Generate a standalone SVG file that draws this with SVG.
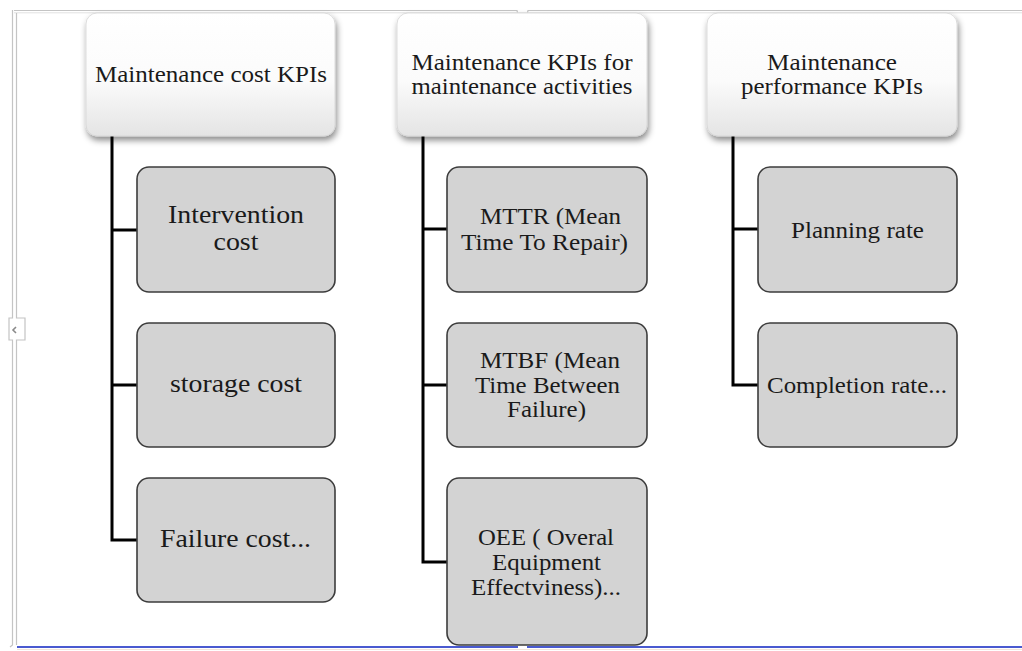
<svg xmlns="http://www.w3.org/2000/svg" width="1022" height="651" viewBox="0 0 1022 651">
<defs>
<linearGradient id="hg" x1="0" y1="0" x2="0" y2="1">
<stop offset="0" stop-color="#ffffff"/>
<stop offset="0.55" stop-color="#fbfbfb"/>
<stop offset="1" stop-color="#e4e4e4"/>
</linearGradient>
<filter id="sh" x="-10%" y="-10%" width="125%" height="135%">
<feDropShadow dx="1.5" dy="4" stdDeviation="3" flood-color="#000" flood-opacity="0.45"/>
</filter>
</defs>
<style>
.hdr{fill:url(#hg);stroke:#d4d4d4;stroke-width:0.8;filter:url(#sh)}
.kid{fill:#d3d3d3;stroke:#3c3c3c;stroke-width:1.6}
text{font-family:'Liberation Serif','DejaVu Serif',serif;fill:#1a1a1a;text-anchor:middle}
.h{font-size:23px}
.c1{font-size:26px}
.c2{font-size:23px}
.con{fill:none;stroke:#000;stroke-width:3}
.frame{fill:none;stroke:#c4c4c4;stroke-width:1.2}
</style>
<rect width="1022" height="651" fill="#ffffff"/>

<g id="frame">
<polyline class="frame" points="14,10.5 517,10.5 518,15 527,15 528,10.5 1022,10.5"/>
<line x1="14" y1="12.8" x2="1022" y2="12.8" stroke="#e2e2e2" stroke-width="1"/>
<polyline class="frame" points="12.5,10 12.5,318 9,318 9,340 12.5,340 12.5,645 10,647"/>
<polyline class="frame" points="16.5,13 16.5,318 25,318 25,340 16.5,340 16.5,645"/>
<polyline points="16,327 13,330 16,333" fill="none" stroke="#8a8a8a" stroke-width="1.6"/>
<line x1="17" y1="647" x2="518" y2="647" stroke="#4a5ad0" stroke-width="2"/>
<line x1="527" y1="647" x2="1022" y2="647" stroke="#4a5ad0" stroke-width="2"/>
<line x1="17" y1="649.5" x2="1022" y2="649.5" stroke="#f2e4d8" stroke-width="1"/>
</g>

<g id="connectors">
<path class="con" d="M112,136 V541.5 M112,230 H137 M112,385 H137 M112,540 H137"/>
<path class="con" d="M423,136 V563.5 M423,229 H447 M423,385 H447 M423,562 H447"/>
<path class="con" d="M733,136 V386.5 M733,229 H758 M733,385 H758"/>
</g>

<g id="h1" font-family="Liberation Serif, serif">
<rect class="hdr" x="86" y="13" width="249" height="123" rx="11"/>
<text class="h" x="211" y="82" textLength="232" lengthAdjust="spacingAndGlyphs">Maintenance cost KPIs</text>
</g>
<g id="h2" font-family="Liberation Serif, serif">
<rect class="hdr" x="397" y="13" width="250" height="123" rx="11"/>
<text class="h" x="522" y="70" textLength="221" lengthAdjust="spacingAndGlyphs">Maintenance KPIs for</text>
<text class="h" x="522" y="94" textLength="221" lengthAdjust="spacingAndGlyphs">maintenance activities</text>
</g>
<g id="h3" font-family="Liberation Serif, serif">
<rect class="hdr" x="707" y="13" width="250" height="123" rx="11"/>
<text class="h" x="832" y="70" textLength="130" lengthAdjust="spacingAndGlyphs">Maintenance</text>
<text class="h" x="832" y="94" textLength="182" lengthAdjust="spacingAndGlyphs">performance KPIs</text>
</g>

<g id="n-intervention">
<rect class="kid" x="137" y="167" width="198" height="125" rx="12"/>
<text class="c1" x="236" y="223" textLength="136" lengthAdjust="spacingAndGlyphs">Intervention</text>
<text class="c1" x="236" y="250" textLength="45" lengthAdjust="spacingAndGlyphs">cost</text>
</g>
<g id="n-storage">
<rect class="kid" x="137" y="323" width="198" height="124" rx="12"/>
<text class="c1" x="236" y="392" textLength="132" lengthAdjust="spacingAndGlyphs">storage cost</text>
</g>
<g id="n-failure">
<rect class="kid" x="137" y="478" width="198" height="124" rx="12"/>
<text class="c1" x="235.5" y="547" textLength="151" lengthAdjust="spacingAndGlyphs">Failure cost...</text>
</g>

<g id="n-mttr">
<rect class="kid" x="447" y="167" width="200" height="125" rx="12"/>
<text class="c2" x="550.5" y="224" textLength="141" lengthAdjust="spacingAndGlyphs">MTTR (Mean</text>
<text class="c2" x="544.5" y="250" textLength="167" lengthAdjust="spacingAndGlyphs">Time To Repair)</text>
</g>
<g id="n-mtbf">
<rect class="kid" x="447" y="323" width="200" height="124" rx="12"/>
<text class="c2" x="550" y="368" textLength="140" lengthAdjust="spacingAndGlyphs">MTBF (Mean</text>
<text class="c2" x="547.5" y="393" textLength="145" lengthAdjust="spacingAndGlyphs">Time Between</text>
<text class="c2" x="546.5" y="417" textLength="79" lengthAdjust="spacingAndGlyphs">Failure)</text>
</g>
<g id="n-oee">
<rect class="kid" x="447" y="478" width="200" height="167" rx="12"/>
<text class="c2" x="546" y="545" textLength="136" lengthAdjust="spacingAndGlyphs">OEE ( Overal</text>
<text class="c2" x="546.5" y="570" textLength="109" lengthAdjust="spacingAndGlyphs">Equipment</text>
<text class="c2" x="546" y="595" textLength="150" lengthAdjust="spacingAndGlyphs">Effectviness)...</text>
</g>

<g id="n-planning">
<rect class="kid" x="758" y="167" width="199" height="125" rx="12"/>
<text class="c2" x="857.5" y="238" textLength="133" lengthAdjust="spacingAndGlyphs">Planning rate</text>
</g>
<g id="n-completion">
<rect class="kid" x="758" y="323" width="199" height="124" rx="12"/>
<text class="c2" x="857" y="393" textLength="180" lengthAdjust="spacingAndGlyphs">Completion rate...</text>
</g>
</svg>
